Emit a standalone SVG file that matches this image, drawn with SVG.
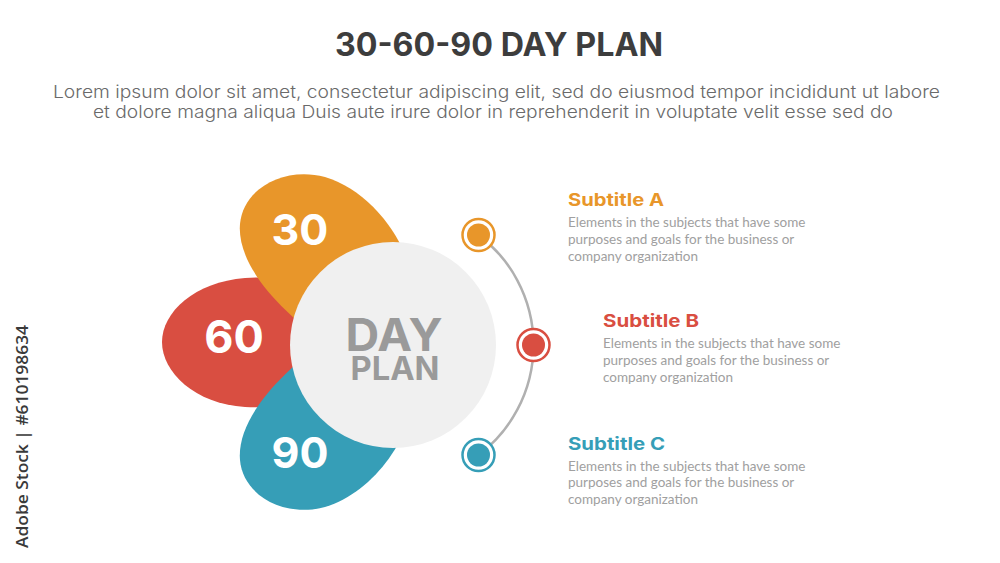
<svg xmlns="http://www.w3.org/2000/svg" width="1000" height="563" viewBox="0 0 1000 563">
  <style>
    .title { font-family: Inter, "Liberation Sans", sans-serif; font-weight: 700; font-size: 32px; fill: #3d3d3d; }
    .lead { font-family: Inter, "Liberation Sans", sans-serif; font-weight: 300; font-size: 17.5px; fill: #6a6a6a; }
    .num { font-family: Inter, "Liberation Sans", sans-serif; font-weight: 700; fill: #ffffff; text-anchor: middle; }
    .center { font-family: Inter, "Liberation Sans", sans-serif; font-weight: 700; fill: #9a9a9a; text-anchor: middle; }
    .sub { font-family: Inter, "Liberation Sans", sans-serif; font-weight: 700; font-size: 17.5px; }
    .body { font-family: Lato, "Liberation Sans", sans-serif; font-size: 13.5px; fill: #a0a0a0; }
    .conn { fill: none; stroke: #b0b0b0; stroke-width: 2.5; }
    .ring { fill: #ffffff; stroke-width: 2.5; }
    .wm { font-family: "Open Sans", "Liberation Sans", sans-serif; font-weight: 600; font-size: 16px; fill: #3a3a3a; }
  </style>

  <rect width="1000" height="563" fill="#ffffff"/>

  <text class="title" x="335" y="56" textLength="328" lengthAdjust="spacingAndGlyphs">30-60-90 DAY PLAN</text>
  <text class="lead" x="53" y="97.5" textLength="887" lengthAdjust="spacingAndGlyphs">Lorem ipsum dolor sit amet, consectetur adipiscing elit, sed do eiusmod tempor incididunt ut labore</text>
  <text class="lead" x="93" y="117.5" textLength="800" lengthAdjust="spacingAndGlyphs">et dolore magna aliqua Duis aute irure dolor in reprehenderit in voluptate velit esse sed do</text>

  <g id="petal-60">
    <path d="M 405,342 C 365,296 305,274 245,278 C 195,282 162,312 162,342 C 162,372 195,404 245,407 C 305,410 365,388 405,342 Z" fill="#d94e41"/>
    <text class="num" x="234" y="353" font-size="45">60</text>
  </g>
  <g id="petal-30">
    <path d="M 415,300 C 415,250 375,192 325,177 C 285,166 243,188 240,224 C 237,260 270,305 335,350 Z" fill="#e8962a"/>
    <text class="num" x="300" y="245" font-size="43">30</text>
  </g>
  <g id="petal-90">
    <path d="M 415,384 C 415,434 375,492 325,507 C 285,518 243,496 240,460 C 237,424 270,379 335,334 Z" fill="#369eb7"/>
    <text class="num" x="300" y="468" font-size="43">90</text>
  </g>
  <g id="day-plan">
    <circle cx="393" cy="345" r="103" fill="#f0f0f0"/>
    <text class="center" x="394" y="351" font-size="45" textLength="97" lengthAdjust="spacingAndGlyphs">DAY</text>
    <text class="center" x="395" y="380" font-size="33" textLength="89" lengthAdjust="spacingAndGlyphs">PLAN</text>
  </g>

  <g id="connectors">
    <path class="conn" d="M 478.5,235 A 137.5 137.5 0 0 1 478.5,455"/>
  </g>

  <g id="item-a">
    <circle class="ring" cx="478.5" cy="235" r="16" stroke="#e8962a"/>
    <circle cx="478.5" cy="235" r="11.5" fill="#e8962a"/>
    <text class="sub" x="568" y="206" fill="#e8962a" textLength="96" lengthAdjust="spacingAndGlyphs">Subtitle A</text>
    <text class="body" x="568" y="227">Elements in the subjects that have some</text>
    <text class="body" x="568" y="244">purposes and goals for the business or</text>
    <text class="body" x="568" y="260.5">company organization</text>
  </g>
  <g id="item-b">
    <circle class="ring" cx="533.5" cy="345" r="16" stroke="#d94e41"/>
    <circle cx="533.5" cy="345" r="11.5" fill="#d94e41"/>
    <text class="sub" x="603" y="327" fill="#d94e41" textLength="96" lengthAdjust="spacingAndGlyphs">Subtitle B</text>
    <text class="body" x="603" y="348">Elements in the subjects that have some</text>
    <text class="body" x="603" y="365">purposes and goals for the business or</text>
    <text class="body" x="603" y="381.5">company organization</text>
  </g>
  <g id="item-c">
    <circle class="ring" cx="478.5" cy="455" r="16" stroke="#369eb7"/>
    <circle cx="478.5" cy="455" r="11.5" fill="#369eb7"/>
    <text class="sub" x="568" y="450" fill="#369eb7" textLength="97" lengthAdjust="spacingAndGlyphs">Subtitle C</text>
    <text class="body" x="568" y="470.5">Elements in the subjects that have some</text>
    <text class="body" x="568" y="487">purposes and goals for the business or</text>
    <text class="body" x="568" y="503.5">company organization</text>
  </g>

  <text class="wm" transform="translate(28,548) rotate(-90)" textLength="223" lengthAdjust="spacingAndGlyphs">Adobe Stock | #610198634</text>
</svg>
